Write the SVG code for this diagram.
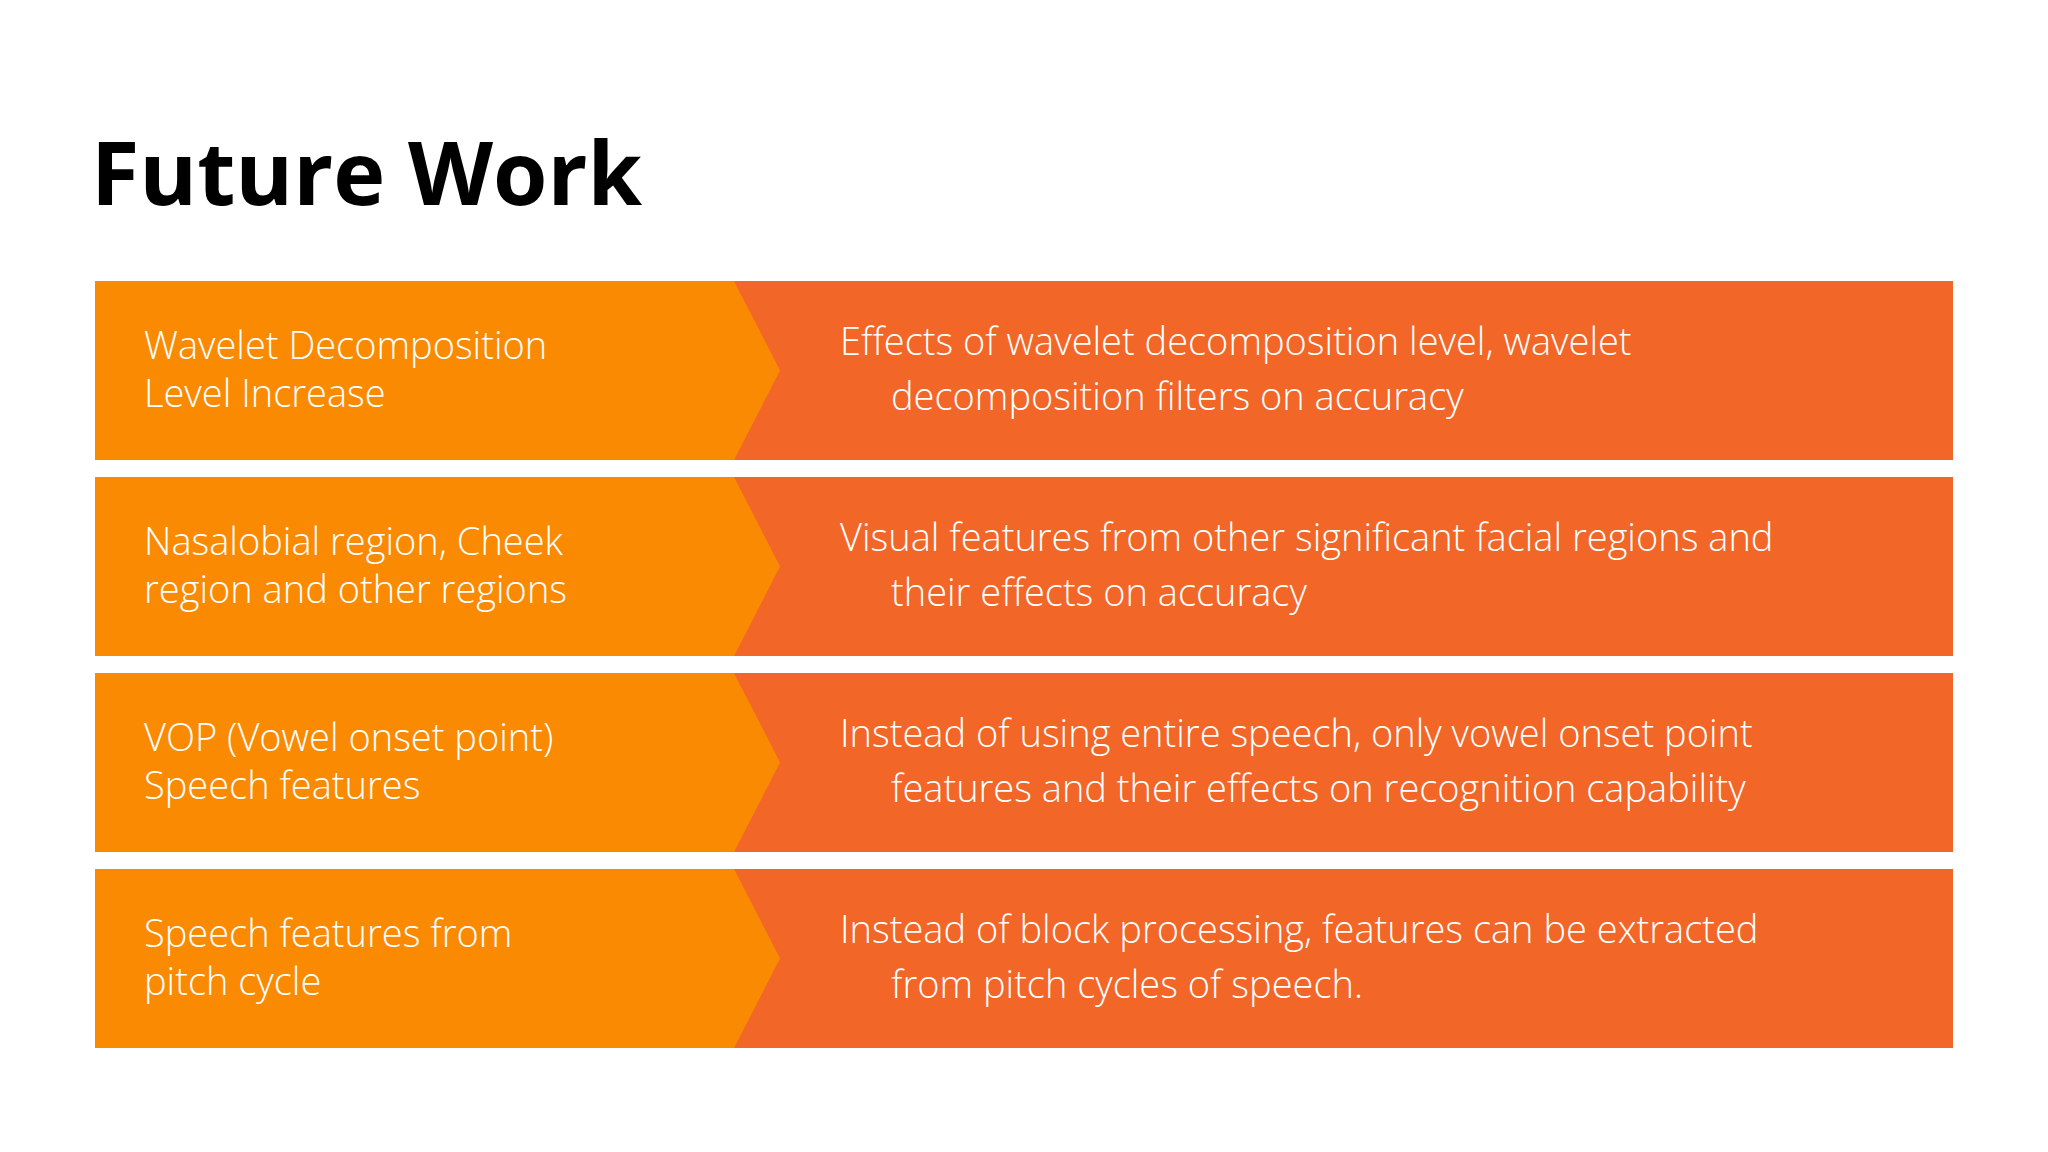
<svg xmlns="http://www.w3.org/2000/svg" width="2048" height="1152" viewBox="0 0 2048 1152">
<style>
.t{font-family:"Open Sans","Liberation Sans",sans-serif;font-weight:300;font-size:38px;fill:#fff}
.bg{fill:#F26628}
.ch{fill:#FB8A03}
</style>
<rect width="2048" height="1152" fill="#fff"/>
<text x="91" y="205" font-family="'Open Sans','Liberation Sans',sans-serif" font-weight="700" font-size="88" fill="#000">Future Work</text>
<g id="row1" transform="translate(0,281)">
<rect class="bg" x="95" y="0" width="1858" height="179"/>
<polygon class="ch" points="95,0 734,0 780,89.5 734,179 95,179"/>
<text class="t" x="144" y="78">Wavelet Decomposition</text><text class="t" x="144" y="126">Level Increase</text>
<text class="t" x="840" y="74">Effects of wavelet decomposition level, wavelet</text><text class="t" x="891" y="129">decomposition filters on accuracy</text>
</g>
<g id="row2" transform="translate(0,477)">
<rect class="bg" x="95" y="0" width="1858" height="179"/>
<polygon class="ch" points="95,0 734,0 780,89.5 734,179 95,179"/>
<text class="t" x="144" y="78">Nasalobial region, Cheek</text><text class="t" x="144" y="126">region and other regions</text>
<text class="t" x="840" y="74">Visual features from other significant facial regions and</text><text class="t" x="891" y="129">their effects on accuracy</text>
</g>
<g id="row3" transform="translate(0,673)">
<rect class="bg" x="95" y="0" width="1858" height="179"/>
<polygon class="ch" points="95,0 734,0 780,89.5 734,179 95,179"/>
<text class="t" x="144" y="78">VOP (Vowel onset point)</text><text class="t" x="144" y="126">Speech features</text>
<text class="t" x="840" y="74">Instead of using entire speech, only vowel onset point</text><text class="t" x="891" y="129">features and their effects on recognition capability</text>
</g>
<g id="row4" transform="translate(0,869)">
<rect class="bg" x="95" y="0" width="1858" height="179"/>
<polygon class="ch" points="95,0 734,0 780,89.5 734,179 95,179"/>
<text class="t" x="144" y="78">Speech features from</text><text class="t" x="144" y="126">pitch cycle</text>
<text class="t" x="840" y="74">Instead of block processing, features can be extracted</text><text class="t" x="891" y="129">from pitch cycles of speech.</text>
</g>
<g id="connectors"/>
</svg>
